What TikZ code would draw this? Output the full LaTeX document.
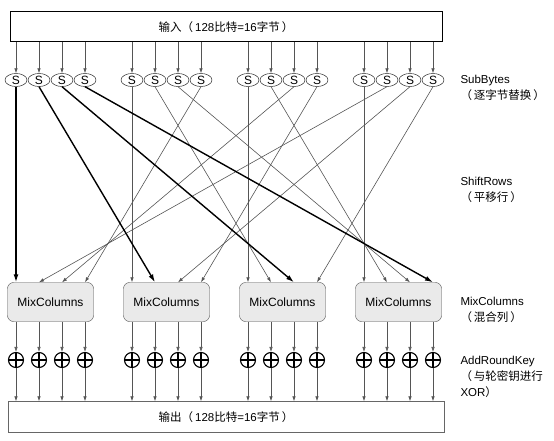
\documentclass[tikz,border=0pt]{standalone}
\usepackage{fontspec}
\setmainfont{Liberation Sans}
\newfontfamily\cjk{Noto Sans CJK SC}
\usetikzlibrary{shapes.geometric,arrows.meta,positioning,calc}
\definecolor{mcgray}{RGB}{234,234,234}
\definecolor{linegray}{RGB}{85,85,85}

\begin{document}
\begin{tikzpicture}[x=1pt, y=-1pt,
  wide/.style={draw, rectangle, minimum width=432pt, minimum height=30pt, font=\fontsize{11.5}{13}\selectfont},
  sbox/.style={draw, ellipse, minimum width=22pt, minimum height=13pt, inner sep=0pt, font=\fontsize{12}{12}\selectfont},
  mcbox/.style={draw=black!70, fill=mcgray, rectangle, rounded corners=6pt, minimum width=86pt, minimum height=39pt, font=\fontsize{12}{13}\selectfont},
  xorn/.style={draw, circle, line width=1.1pt, minimum size=15pt, inner sep=0pt,
    path picture={\draw[line width=1.1pt] (path picture bounding box.north) -- (path picture bounding box.south)
      (path picture bounding box.west) -- (path picture bounding box.east);}},
  lbl/.style={anchor=west, align=left, font=\fontsize{11.5}{16}\selectfont},
  arr/.style={-{Latex[length=5pt,width=3.5pt]}, linegray, line width=0.6pt},
  bigarr/.style={-{Latex[length=8pt,width=5pt]}, black, line width=1.4pt}
]
\useasboundingbox (0,0) rectangle (554,441);

\node[wide, line width=1pt] (in) at (226,27) {{\cjk 输入（\,}128{\cjk 比特}=16{\cjk 字节\,）}};
\node[wide, draw=black!60, minimum width=436pt, minimum height=31pt] (out) at (226,417) {{\cjk 输出（\,}128{\cjk 比特}=16{\cjk 字节\,）}};

% S-boxes, MixColumns, AddRoundKey
\foreach \g in {0,...,3} {
  \node[mcbox] (mc-\g) at (50.5+116*\g,302) {MixColumns};
  \foreach \k in {0,...,3} {
    \node[sbox] (s-\g-\k) at (16+116*\g+23*\k,80) {S};
    \node[xorn] (x-\g-\k) at (16+116*\g+23*\k,360) {};
    \draw[arr] (in.south -| s-\g-\k) -- (s-\g-\k);
    \draw[arr] (mc-\g.south -| x-\g-\k) -- (x-\g-\k);
    \draw[arr] (x-\g-\k) -- (out.north -| x-\g-\k);
  }
}

% ShiftRows
\foreach \g in {1,2,3}
  \foreach \k in {0,...,3} {
    \pgfmathtruncatemacro{\t}{mod(\g+\k,4)}
    \draw[arr] (s-\g-\k.south) -- (s-\t-\k |- mc-\t.north);
  }
\foreach \k in {0,...,3}
  \draw[bigarr] (s-0-\k.south) -- (s-\k-\k |- mc-\k.north);

\node[lbl] (sb) at (457,88) {SubBytes\\{\cjk （\,逐字节替换\,）}};
\node[lbl] (sr) at (457,190) {ShiftRows\\{\cjk （\,平移行\,）}};
\node[lbl] (mcl) at (457,310) {MixColumns\\{\cjk （\,混合列\,）}};
\node[lbl] (ark) at (457,377) {AddRoundKey\\{\cjk （\,与轮密钥进行}\\XOR{\cjk ）}};
\end{tikzpicture}
\end{document}
